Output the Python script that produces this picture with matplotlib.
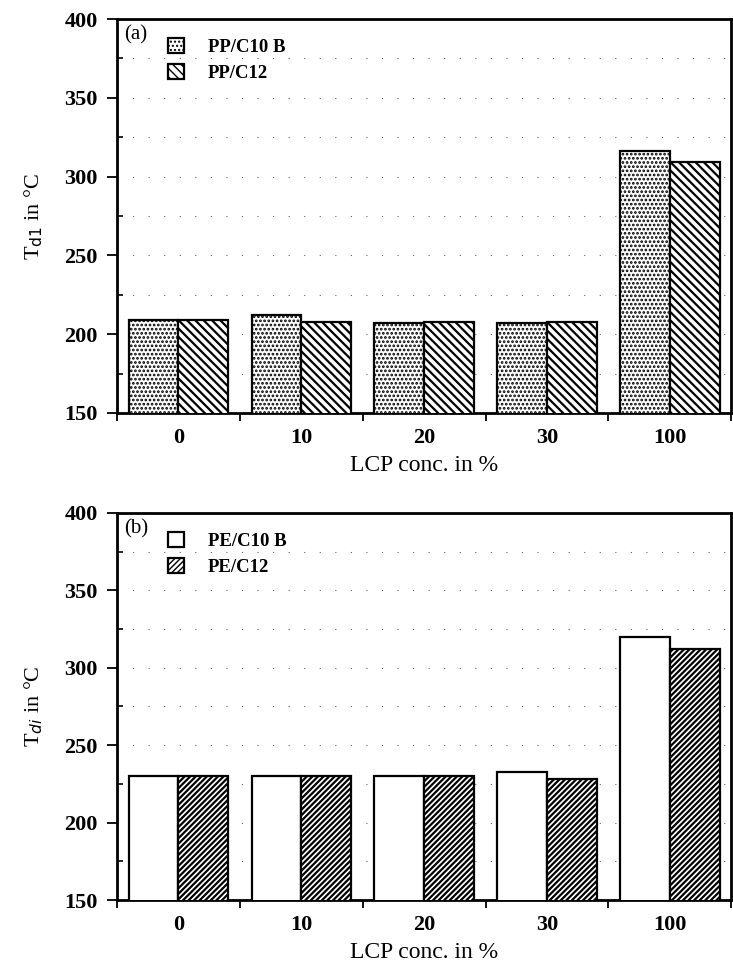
import numpy as np
import matplotlib.pyplot as plt

plt.rcParams['font.family'] = ['Liberation Serif', 'DejaVu Serif']

# datos
conc = ['0', '10', '20', '30', '100']
pp_c10b = [209, 212, 207, 207, 316]
pp_c12 = [209, 208, 208, 208, 309]
pe_c10b = [230, 230, 230, 233, 320]
pe_c12 = [230, 230, 230, 228, 312]

fig = plt.figure(figsize=(7.33, 9.71), dpi=100)
ax1 = fig.add_axes([0.1596, 0.5747, 0.838, 0.4057])
ax2 = fig.add_axes([0.1596, 0.0731, 0.838, 0.3986])

def panel(ax, v1, v2, h1, h2, lab1, lab2, tag, ylab):
    x = np.arange(len(conc))
    w = 0.405
    # grosor de la trama distinto para puntos y rayas
    with plt.rc_context({'hatch.linewidth': 1.3}):
        ax.bar(x - w/2, v1, w, color='white', edgecolor='black',
               hatch=h1, linewidth=1.6, label=lab1, zorder=3)
    with plt.rc_context({'hatch.linewidth': 1.6}):
        ax.bar(x + w/2, v2, w, color='white', edgecolor='black',
               hatch=h2, linewidth=1.6, label=lab2, zorder=3)
    ax.set_ylim(150, 400)
    ax.set_xlim(-0.5, len(conc) - 0.5)
    # lineas punteadas del fondo
    for yy in np.arange(175, 400, 25):
        ax.axhline(yy, color='#666666', lw=0.8, ls=(0, (1, 13)), zorder=1)
    ax.set_yticks(np.arange(150, 401, 50))
    ax.set_yticks(np.arange(175, 400, 50), minor=True)
    ax.tick_params(axis='y', which='major', direction='out', length=7, width=1.3,
                   labelsize=16, pad=7)
    ax.tick_params(axis='y', which='minor', direction='in', length=4, width=1.2)
    ax.set_xticks(np.arange(-0.5, len(conc), 1.0))
    ax.set_xticklabels([])
    ax.set_xticks(x, minor=True)
    ax.set_xticklabels(conc, minor=True)
    ax.tick_params(axis='x', which='major', direction='out', length=6, width=1.3)
    ax.tick_params(axis='x', which='minor', length=0, labelsize=16, pad=11)
    for t in ax.get_yticklabels() + ax.get_xticklabels(minor=True):
        t.set_fontweight('bold')
    for s in ax.spines.values():
        s.set_linewidth(2)
    ax.set_xlabel('LCP conc. in %', fontsize=17, labelpad=5)
    ax.set_ylabel(ylab, fontsize=16, labelpad=14)
    ax.text(0.012, 0.985, tag, transform=ax.transAxes, fontsize=15,
            va='top', ha='left')
    ax.legend(loc='upper left', bbox_to_anchor=(0.055, 0.995), frameon=False,
              prop={'size': 13.5, 'weight': 'bold'}, handlelength=0.85,
              handleheight=0.85, handletextpad=1.3, labelspacing=0.45)

panel(ax1, pp_c10b, pp_c12, '....', '\\\\\\\\', 'PP/C10 B', 'PP/C12',
      '(a)', r'T$_{\mathrm{d1}}$ in °C')
panel(ax2, pe_c10b, pe_c12, '', '//////', 'PE/C10 B', 'PE/C12',
      '(b)', r'T$_{di}$ in °C')

plt.savefig('out.png', dpi=100)
